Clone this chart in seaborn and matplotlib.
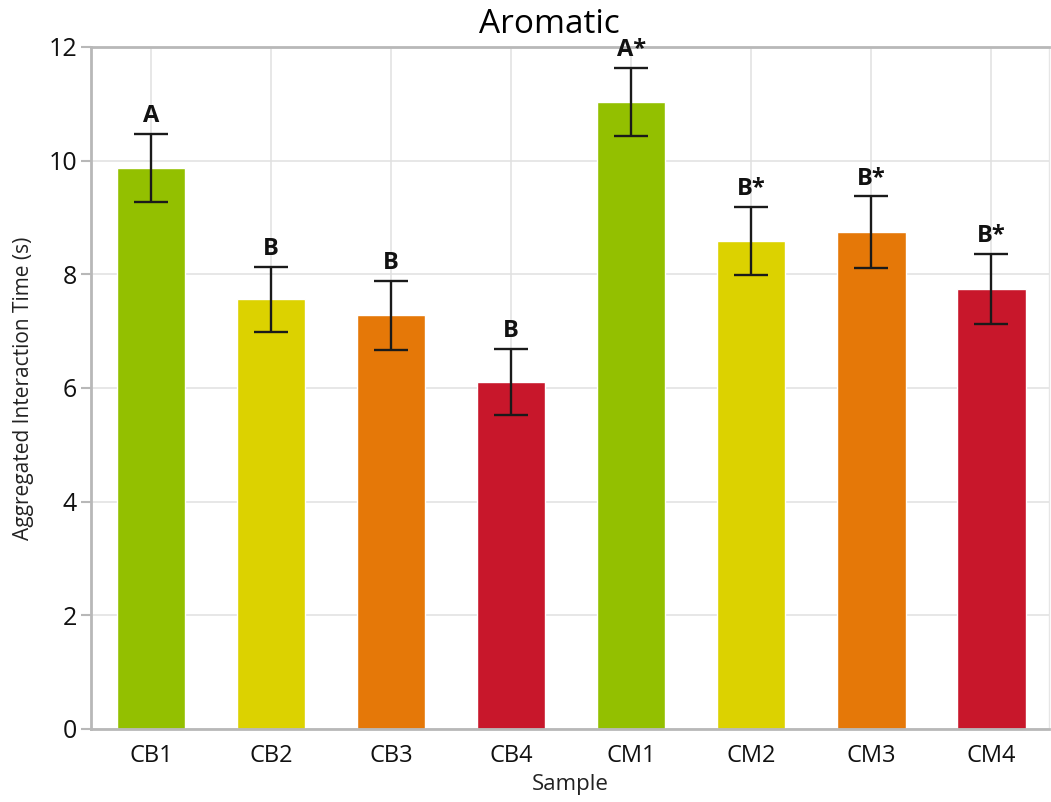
import matplotlib
matplotlib.use("Agg")
import matplotlib.pyplot as plt
import seaborn as sns
import pandas as pd

samples = ["CB1", "CB2", "CB3", "CB4", "CM1", "CM2", "CM3", "CM4"]
means = [9.87, 7.56, 7.28, 6.11, 11.03, 8.59, 8.74, 7.74]
errors = [0.60, 0.57, 0.61, 0.58, 0.60, 0.60, 0.63, 0.62]
letters = ["A", "B", "B", "B", "A*", "B*", "B*", "B*"]
colors = ["#93c000", "#dcd200", "#e57808", "#c8172b",
          "#93c000", "#dcd200", "#e57808", "#c8172b"]
yticks = [0, 2, 4, 6, 8, 10, 12]

sns.set_theme(style="white")
plt.rcParams["font.family"] = ["Open Sans", "DejaVu Sans"]

df = pd.DataFrame({"Sample": samples, "Time": means})

fig = plt.figure(figsize=(10.51, 8.02), dpi=100)
ax = fig.add_axes([91 / 1051, 1 - 729 / 802, (1049 - 91) / 1051, (729 - 47) / 802])

sns.barplot(data=df, x="Sample", y="Time", hue="Sample", palette=colors,
            order=samples, hue_order=samples, width=0.57, errorbar=None,
            legend=False, ax=ax, zorder=2, saturation=1)
ax.errorbar(range(len(samples)), means, yerr=errors, fmt="none",
            ecolor="#1a1a1a", elinewidth=1.7, capsize=12, capthick=1.7, zorder=3)

for i, (m, e, lab) in enumerate(zip(means, errors, letters)):
    ax.text(i, m + e + 0.1, lab, ha="center", va="bottom", fontsize=17,
            fontweight="bold", color="#111111", zorder=4)

ax.set_xlim(-0.5, 7.48)
ax.set_ylim(0, 12)
ax.set_yticks(yticks)
ax.set_yticklabels([str(t) for t in yticks])
ax.grid(True, color="#e0e0e0", linewidth=1.1, zorder=0)
ax.set_axisbelow(True)
for side in ["left", "top", "bottom"]:
    ax.spines[side].set_color("#b8b8b8")
    ax.spines[side].set_linewidth(2)
ax.spines["right"].set_color("#e6e6e6")
ax.spines["right"].set_linewidth(1)
ax.tick_params(axis="y", which="both", left=True, length=7, width=1.5,
               color="#b8b8b8", labelsize=18, pad=3, labelcolor="#111111")
ax.tick_params(axis="x", bottom=False, labelsize=17, pad=5, labelcolor="#111111")
ax.set_xlabel("Sample", fontsize=16, color="#222222", labelpad=4)
ax.set_ylabel("Aggregated Interaction Time (s)", fontsize=15, color="#222222", labelpad=10)
fig.text(549 / 1051, 1 - 33 / 802, "Aromatic", fontsize=24, color="#000000",
         ha="center", va="baseline")

fig.savefig("out.png", dpi=100)
